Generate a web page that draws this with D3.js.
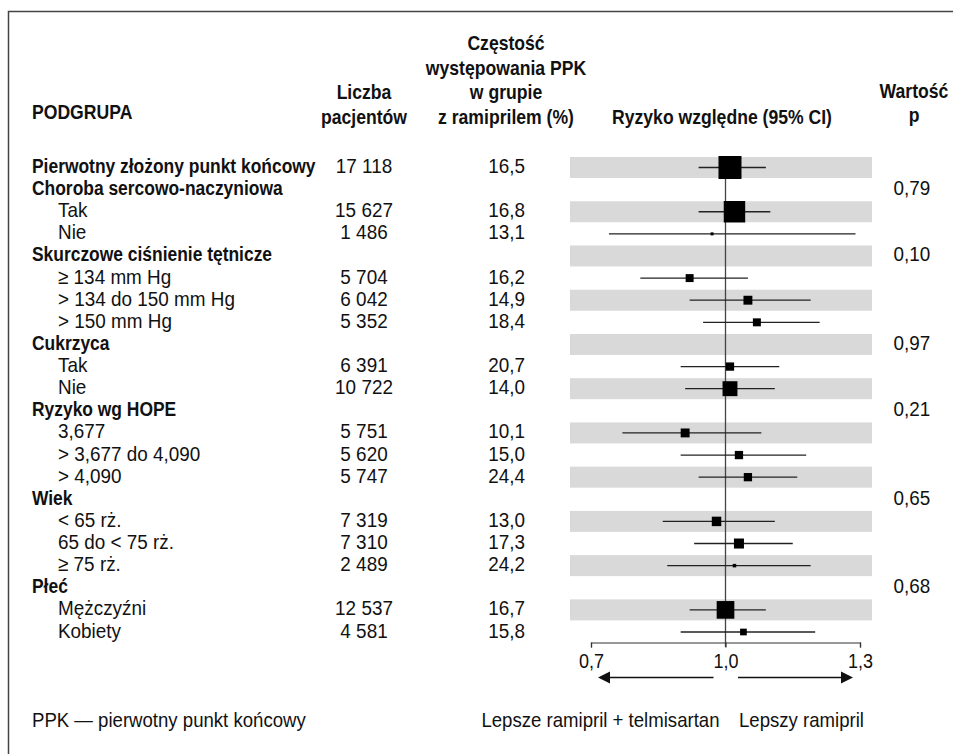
<!DOCTYPE html>
<html>
<head>
<meta charset="utf-8">
<script src="https://cdn.jsdelivr.net/npm/d3@7"></script>
<style>
  body { margin: 0; background: #fff; }
  text { font-family: "Liberation Sans", Arial, sans-serif; fill: #111; }
</style>
</head>
<body>
<script>
// Data
var labels = ["Pierwotny złożony punkt końcowy", "Choroba sercowo-naczyniowa", "Tak", "Nie",
  "Skurczowe ciśnienie tętnicze", "≥ 134 mm Hg", "> 134 do 150 mm Hg", "> 150 mm Hg",
  "Cukrzyca", "Tak", "Nie", "Ryzyko wg HOPE", "3,677", "> 3,677 do 4,090", "> 4,090",
  "Wiek", "< 65 rż.", "65 do < 75 rż.", "≥ 75 rż.", "Płeć", "Mężczyźni", "Kobiety"];
var isGroup = [true, true, false, false, true, false, false, false, true, false, false,
  true, false, false, false, true, false, false, false, true, false, false];
var patients = [17118, null, 15627, 1486, null, 5704, 6042, 5352, null, 6391, 10722,
  null, 5751, 5620, 5747, null, 7319, 7310, 2489, null, 12537, 4581];
var rates = [16.5, null, 16.8, 13.1, null, 16.2, 14.9, 18.4, null, 20.7, 14.0,
  null, 10.1, 15.0, 24.4, null, 13.0, 17.3, 24.2, null, 16.7, 15.8];
var rr = [1.01, null, 1.02, 0.97, null, 0.92, 1.05, 1.07, null, 1.01, 1.01,
  null, 0.91, 1.03, 1.05, null, 0.98, 1.03, 1.02, null, 1.00, 1.04];
var ciLow = [0.94, null, 0.94, 0.74, null, 0.81, 0.92, 0.95, null, 0.90, 0.91,
  null, 0.77, 0.90, 0.94, null, 0.86, 0.93, 0.87, null, 0.92, 0.90];
var ciHigh = [1.09, null, 1.10, 1.29, null, 1.05, 1.19, 1.21, null, 1.12, 1.11,
  null, 1.08, 1.18, 1.16, null, 1.11, 1.15, 1.19, null, 1.09, 1.20];
var weight = [100, null, 87, 1.7, null, 12, 15, 12, null, 13, 42,
  null, 15, 13, 13, null, 17, 19, 2.3, null, 59, 8.5];
var pValues = [null, 0.79, null, null, 0.10, null, null, null, 0.97, null, null,
  0.21, null, null, null, 0.65, null, null, null, 0.68, null, null];
var ticks = [0.7, 1.0, 1.3];

// Settings
var width = 953;
var height = 754;
var labelX = 32;
var indentX = 58;
var patientsX = 364;
var ratesX = 525;
var pX = 912;

var pl = d3.formatLocale({decimal: ",", thousands: " ", grouping: [3], currency: ["", " zł"]});
var fmtN = pl.format(",d");
var fmt1 = pl.format(".1f");
var fmt2 = pl.format(".2f");

var svg = d3.select("body").append("svg").attr("width", width).attr("height", height);

//Frame
svg.append("rect").attr("x", 8.5).attr("y", 11.5).attr("width", 1000).attr("height", 1000)
  .attr("fill", "none").attr("stroke", "#444").attr("stroke-width", 1.5);

//Scales
var x = d3.scaleLinear().domain([0.7, 1.3]).range([591, 860]);
var y = d3.scaleLinear().domain([0, labels.length - 1]).range([167.5, 632]);
var box = d3.scaleSqrt().domain([0, 100]).range([0, 23]);

function txt(sel, px, py, s, o)
{
    return sel.append("text")
        .attr("transform", "translate(" + px + "," + py + ") scale(" + o.sx + ",1)")
        .attr("text-anchor", o.anchor || "start")
        .style("font-size", o.size + "px")
        .style("font-weight", o.bold ? "bold" : "normal")
        .text(s);
}

//Bands
var idx = d3.range(labels.length);
svg.append("g").selectAll("rect").data(idx.filter(i => i % 2 == 0)).join("rect")
  .attr("x", 570).attr("width", 302)
  .attr("y", i => y(i) - 10.5).attr("height", 21)
  .attr("fill", "#d9d9d9");

//Reference line
svg.append("line").attr("x1", x(1)).attr("x2", x(1)).attr("y1", 156).attr("y2", 647)
  .attr("stroke", "#444").attr("stroke-width", 1.3);

//CI and boxes
var est = idx.filter(i => rr[i] != null);
svg.append("g").selectAll("line").data(est).join("line")
  .attr("x1", i => x(ciLow[i])).attr("x2", i => x(ciHigh[i]))
  .attr("y1", i => y(i)).attr("y2", i => y(i))
  .attr("stroke", "#222").attr("stroke-width", 1.3);
svg.append("g").selectAll("rect").data(est).join("rect")
  .attr("x", i => x(rr[i]) - box(weight[i]) / 2)
  .attr("y", i => y(i) - box(weight[i]) / 2)
  .attr("width", i => box(weight[i])).attr("height", i => box(weight[i]))
  .attr("fill", "#000");

//Axis
var axis = svg.append("g").attr("transform", "translate(0,642.5)")
  .call(d3.axisBottom(x).tickValues(ticks).tickSize(5).tickSizeOuter(5).tickPadding(6).tickFormat(fmt1));
axis.selectAll("path, line").attr("stroke", "#333").attr("stroke-width", 1.2);
axis.selectAll("text").style("font-size", "20px").style("font-family", null)
  .attr("transform", "scale(0.9,1)").attr("fill", "#111");

//Arrows
var ay = 677.5;
var arrows = svg.append("g").attr("stroke", "#111").attr("fill", "#111");
arrows.append("line").attr("x1", x(1) - 12).attr("x2", x(0.7) + 17).attr("y1", ay).attr("y2", ay).attr("stroke-width", 1.5);
arrows.append("path").attr("d", "M" + (x(0.7) + 7) + "," + ay + "l12,-6v12z").attr("stroke", "none");
arrows.append("line").attr("x1", x(1) + 12.5).attr("x2", x(1.3) - 17).attr("y1", ay).attr("y2", ay).attr("stroke-width", 1.5);
arrows.append("path").attr("d", "M" + (x(1.3) - 7) + "," + ay + "l-12,-6v12z").attr("stroke", "none");

//Header
var hd = {size: 20, bold: true, sx: 0.88, anchor: "middle"};
txt(svg, labelX, 119, "PODGRUPA", {size: 20, bold: true, sx: 0.88});
txt(svg, patientsX, 99, "Liczba", hd);
txt(svg, patientsX, 123.5, "pacjentów", hd);
txt(svg, 506, 50, "Częstość", hd);
txt(svg, 506, 74.5, "występowania PPK", hd);
txt(svg, 506, 99, "w grupie", hd);
txt(svg, 506, 123.5, "z ramiprilem (%)", hd);
txt(svg, 722, 123.5, "Ryzyko względne (95% CI)", hd);
txt(svg, 914, 97.5, "Wartość", hd);
txt(svg, 914, 122, "p", hd);

//Rows
var rowG = svg.append("g");
idx.forEach(function(i)
{
    var by = y(i) + 5.5;
    if(isGroup[i])
        txt(rowG, labelX, by, labels[i], {size: 21, bold: true, sx: 0.83});
    else
        txt(rowG, indentX, by, labels[i], {size: 21, sx: 0.9});
    if(patients[i] != null)
        txt(rowG, patientsX, by, fmtN(patients[i]), {size: 21, sx: 0.9, anchor: "middle"});
    if(rates[i] != null)
        txt(rowG, ratesX, by, fmt1(rates[i]), {size: 21, sx: 0.9, anchor: "end"});
    if(pValues[i] != null)
        txt(rowG, pX, by, fmt2(pValues[i]), {size: 21, sx: 0.9, anchor: "middle"});
});

//Footer
txt(svg, labelX, 727, "PPK — pierwotny punkt końcowy", {size: 20, sx: 0.93});
txt(svg, x(1) - 6, 727, "Lepsze ramipril + telmisartan", {size: 20, sx: 0.93, anchor: "end"});
txt(svg, x(1) + 13.5, 727, "Lepszy ramipril", {size: 20, sx: 0.93});
</script>
</body>
</html>
